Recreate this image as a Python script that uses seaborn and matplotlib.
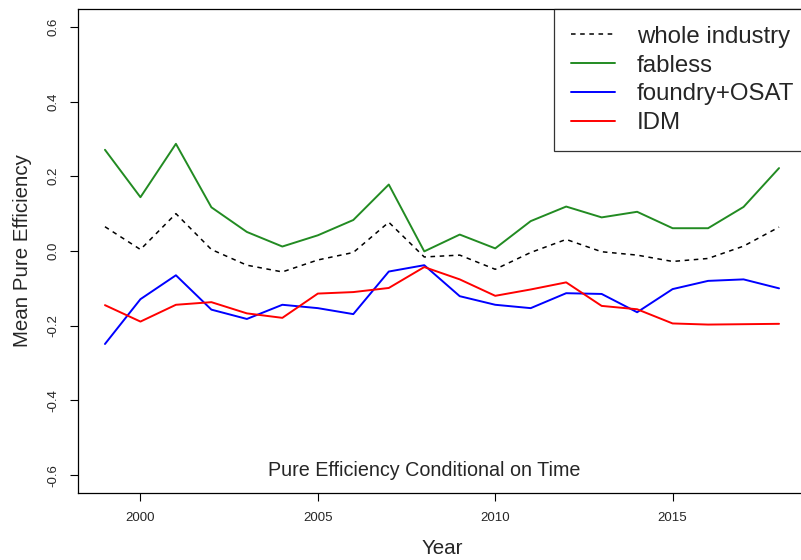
import matplotlib
matplotlib.use("Agg")
import matplotlib.pyplot as plt
from matplotlib.transforms import Bbox
import numpy as np
import pandas as pd
import seaborn as sns

years = list(range(1999, 2019))
whole_industry = [0.065, 0.004, 0.100, 0.004, -0.038, -0.056, -0.024, -0.004, 0.077, -0.016,
                  -0.011, -0.049, -0.004, 0.031, -0.002, -0.011, -0.028, -0.020, 0.013, 0.064]
fabless = [0.271, 0.144, 0.287, 0.117, 0.051, 0.012, 0.042, 0.083, 0.178, -0.001,
           0.044, 0.007, 0.080, 0.119, 0.090, 0.105, 0.061, 0.061, 0.118, 0.222]
foundry_osat = [-0.249, -0.129, -0.065, -0.157, -0.182, -0.144, -0.153, -0.169, -0.055, -0.038,
                -0.121, -0.144, -0.153, -0.113, -0.115, -0.164, -0.102, -0.080, -0.076, -0.100]
idm = [-0.145, -0.189, -0.144, -0.137, -0.167, -0.179, -0.114, -0.110, -0.099, -0.043,
       -0.076, -0.120, -0.103, -0.084, -0.147, -0.156, -0.194, -0.197, -0.196, -0.195]

series_names = ["whole industry", "fabless", "foundry+OSAT", "IDM"]
series_colors = ["black", "forestgreen", "blue", "red"]
y_ticks = [-0.6, -0.4, -0.2, 0.0, 0.2, 0.4, 0.6]
x_ticks = [2000, 2005, 2010, 2015]

df = pd.DataFrame({
    "Year": years * 4,
    "value": whole_industry + fabless + foundry_osat + idm,
    "group": sum([[n] * len(years) for n in series_names], []),
})

sns.set_style("white")
plt.rcParams["font.family"] = ["Liberation Sans", "DejaVu Sans"]

# canvas is drawn wider, then the saved image is cut at 801 px
W, H = 830, 560
fig = plt.figure(figsize=(W / 100, H / 100), dpi=100)
left, right, top, bottom = 78, 806, 9, 493
ax = fig.add_axes([left / W, 1 - bottom / H, (right - left) / W, (bottom - top) / H])

for name, color in zip(series_names, series_colors):
    sub = df[df["group"] == name]
    ls = (0, (3, 3)) if name == "whole industry" else "-"
    lw = 1.1 if name == "whole industry" else 1.4
    sns.lineplot(data=sub, x="Year", y="value", color=color, linewidth=lw,
                 linestyle=ls, label=name, ax=ax, legend=False)

ax.set_xlim(1999 - 0.04 * 19, 2018 + 0.04 * 19)
ax.set_ylim(-0.648, 0.648)
ax.set_xticks(x_ticks)
ax.set_xticklabels([str(t) for t in x_ticks], fontsize=9.5)
ax.set_yticks(y_ticks)
ax.set_yticklabels([f"{t:.1f}" for t in y_ticks], fontsize=9.5, rotation=90, va="center")
ax.tick_params(axis="both", direction="out", length=5.5, width=0.8, color="black",
               bottom=True, left=True, pad=8)
for s in ax.spines.values():
    s.set_color("black")
    s.set_linewidth(0.9)

ax.set_xlabel("Year", fontsize=14.8, labelpad=11)
ax.set_ylabel("Mean Pure Efficiency", fontsize=14.8, labelpad=11)

ax.text(2008, -0.589, "Pure Efficiency Conditional on Time", ha="center", va="center",
        fontsize=14.2)

leg = ax.legend(loc="upper right", bbox_to_anchor=(811 / W, 1 - top / H),
                bbox_transform=fig.transFigure, borderaxespad=0,
                fontsize=17.3, frameon=True, fancybox=False, edgecolor="black",
                handlelength=1.85, handletextpad=0.9, labelspacing=0.28,
                borderpad=0.7)
leg.get_frame().set_linewidth(0.9)

fig.savefig("out.png", dpi=100, bbox_inches=Bbox([[0, 0], [8.01, 5.60]]))
